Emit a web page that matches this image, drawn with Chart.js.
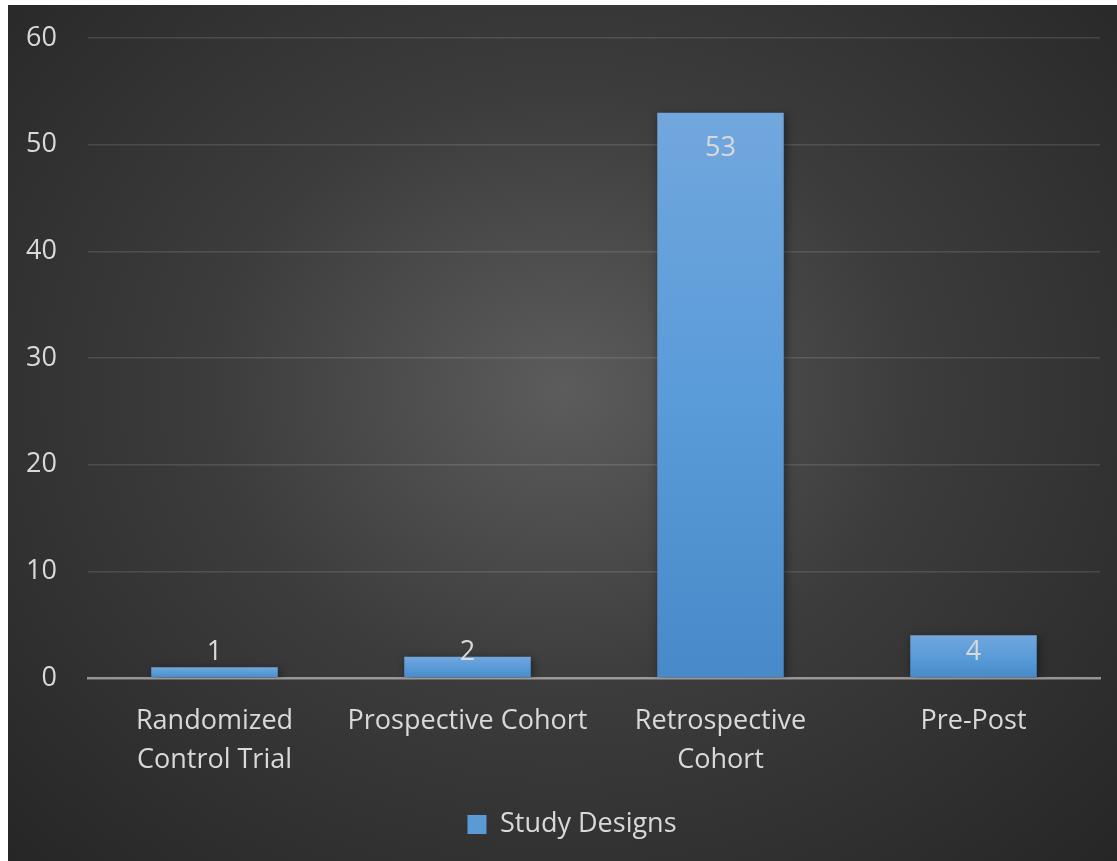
<!DOCTYPE html>
<html>
<head>
<meta charset="utf-8">
<script src="https://cdn.jsdelivr.net/npm/chart.js@4"></script>
<style>
  html, body { margin: 0; padding: 0; background: #ffffff; width: 1117px; height: 861px; overflow: hidden; }
  #panel {
    position: absolute; left: 8px; top: 5px; width: 1109px; height: 856px;
    background: radial-gradient(ellipse farthest-corner at 50% 45%, #5c5c5c 0%, #3c3c3c 45%, #262626 100%);
  }
  canvas { display: block; }
</style>
</head>
<body>
<div id="panel"><canvas id="chart" width="1109" height="856"></canvas></div>
<script>
// Study design categories and number of studies in each
const categories = [["Randomized", "Control Trial"], "Prospective Cohort", ["Retrospective", "Cohort"], "Pre-Post"];
const counts = [1, 2, 53, 4];
const seriesName = "Study Designs";
const yTicks = [0, 10, 20, 30, 40, 50, 60];

const textColor = '#d9d9d9';
const fontFamily = '"Open Sans", "Segoe UI", sans-serif';
const fontSize = 27;

// Vertical blue gradient for each bar, from its top down to the baseline
function barFill(ctx) {
  const chart = ctx.chart;
  if (!chart.chartArea || ctx.dataIndex === undefined) return '#5b9bd5';
  const y = chart.scales.y;
  const top = y.getPixelForValue(counts[ctx.dataIndex]);
  const bottom = y.getPixelForValue(0);
  const g = chart.ctx.createLinearGradient(0, top, 0, bottom);
  g.addColorStop(0, '#71a7dd');
  g.addColorStop(0.5, '#5a9bd9');
  g.addColorStop(1, '#488ac9');
  return g;
}

// Soft drop shadow under the bars
const barShadow = {
  id: 'barShadow',
  beforeDatasetsDraw(chart) {
    const c = chart.ctx;
    c.save();
    c.shadowColor = 'rgba(0,0,0,0.45)';
    c.shadowBlur = 9;
    c.shadowOffsetX = 2;
    c.shadowOffsetY = 2;
  },
  afterDatasetsDraw(chart) {
    chart.ctx.restore();
  }
};

// Nudge the legend slightly right of the panel centre
const legendShift = {
  id: 'legendShift',
  afterLayout(chart) {
    if (chart.legend) {
      chart.legend.left += 18;
      chart.legend.right += 18;
    }
  }
};

// Value labels near the inner top of each bar
const valueLabels = {
  id: 'valueLabels',
  afterDraw(chart) {
    const c = chart.ctx;
    const meta = chart.getDatasetMeta(0);
    const base = chart.scales.y.getPixelForValue(0);
    c.save();
    c.fillStyle = textColor;
    c.font = fontSize + 'px ' + fontFamily;
    c.textAlign = 'center';
    c.textBaseline = 'middle';
    meta.data.forEach((bar, i) => {
      const y = Math.min(bar.y + 36, base - 26);
      c.fillText(String(counts[i]), bar.x, y);
    });
    c.restore();
  }
};

new Chart(document.getElementById('chart'), {
  type: 'bar',
  data: {
    labels: categories,
    datasets: [{
      label: seriesName,
      data: counts,
      backgroundColor: barFill,
      borderWidth: 0,
      barPercentage: 0.5,
      categoryPercentage: 1.0
    }]
  },
  options: {
    responsive: false,
    animation: false,
    devicePixelRatio: 1,
    layout: { padding: { left: 0, right: 17, top: 33, bottom: 13 } },
    plugins: {
      tooltip: { enabled: false },
      legend: {
        display: true,
        position: 'bottom',
        labels: {
          color: textColor,
          font: { family: fontFamily, size: fontSize },
          boxWidth: 19,
          boxHeight: 19,
          padding: 10,
          generateLabels(chart) {
            return [{
              text: seriesName,
              fillStyle: '#5b9bd5',
              strokeStyle: '#5b9bd5',
              lineWidth: 0,
              fontColor: textColor,
              datasetIndex: 0
            }];
          }
        }
      }
    },
    scales: {
      x: {
        z: 1,
        grid: { display: false, drawTicks: false },
        border: { display: true, color: 'rgba(217,217,217,0.6)', width: 2.5 },
        ticks: {
          color: textColor,
          font: { family: fontFamily, size: fontSize, lineHeight: 1.44 },
          padding: 24,
          maxRotation: 0,
          autoSkip: false
        },
        afterFit(scale) { scale.height = 123; }
      },
      y: {
        min: 0,
        max: 60,
        afterBuildTicks(scale) { scale.ticks = yTicks.map(v => ({ value: v })); },
        grid: {
          color: ctx => ctx.tick && ctx.tick.value === 0 ? 'rgba(0,0,0,0)' : 'rgba(255,255,255,0.12)',
          lineWidth: 1.5,
          drawTicks: false
        },
        border: { display: false },
        ticks: {
          color: textColor,
          font: { family: fontFamily, size: fontSize },
          padding: 31
        },
        afterFit(scale) {
          scale.width = 80;
          scale.paddingTop = 0;
          scale.paddingBottom = 0;
        }
      }
    }
  },
  plugins: [barShadow, legendShift, valueLabels]
});
</script>
</body>
</html>
